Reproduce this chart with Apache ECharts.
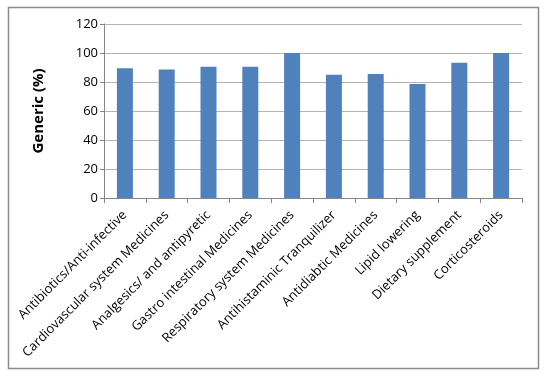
<!DOCTYPE html>
<html>
<head>
<meta charset="utf-8">
<script src="https://cdn.jsdelivr.net/npm/echarts@6/dist/echarts.min.js"></script>
<style>html,body{margin:0;padding:0;background:#fff;}#c{width:544px;height:378px;}</style>
</head>
<body>
<div id="c"></div>
<script>
const categories = ["Antibiotics/Anti-infective","Cardiovascular system Medicines","Analgesics/ and antipyretic","Gastro intestinal Medicines","Respiratory system Medicines","Antihistaminic Tranquilizer","Antidiabtic Medicines","Lipid lowering","Dietary supplement","Corticosteroids"];
const values = [89.4, 88.7, 90.6, 90.6, 100, 85.0, 85.5, 78.6, 93.3, 100];
const yTicks = [0, 20, 40, 60, 80, 100, 120];

const chart = echarts.init(document.getElementById('c'), null, {renderer: 'canvas'});
chart.setOption({
  animation: false,
  backgroundColor: '#fff',
  graphic: [{
    type: 'rect', shape: {x: 8.5, y: 7.5, width: 530, height: 361},
    style: {fill: 'none', stroke: '#8c8c8c', lineWidth: 1.5}, silent: true
  }],
  grid: {left: 104, right: 22, top: 24, bottom: 180, containLabel: false},
  xAxis: {
    type: 'category', data: categories,
    axisLine: {lineStyle: {color: '#868686', width: 1}},
    axisTick: {show: true, length: 5, alignWithLabel: false, lineStyle: {color: '#868686'}},
    axisLabel: {rotate: 45, interval: 0, margin: 15, fontFamily: 'Open Sans', fontSize: 13, color: '#000'}
  },
  yAxis: {
    type: 'value', min: yTicks[0], max: yTicks[yTicks.length-1], interval: 20,
    name: 'Generic (%)', nameLocation: 'middle', nameGap: 58,
    nameTextStyle: {fontFamily: 'Open Sans', fontWeight: 'bold', fontSize: 15, color: '#000'},
    axisLine: {show: true, lineStyle: {color: '#868686'}},
    axisTick: {show: true, length: 4, lineStyle: {color: '#868686'}},
    splitLine: {lineStyle: {color: '#b4b4b4', width: 1}},
    axisLabel: {fontFamily: 'Open Sans', fontSize: 13, color: '#000', margin: 6}
  },
  series: [{
    type: 'bar', data: values, barWidth: 16,
    itemStyle: {color: '#4f81bd'}
  }]
});
</script>
</body>
</html>
